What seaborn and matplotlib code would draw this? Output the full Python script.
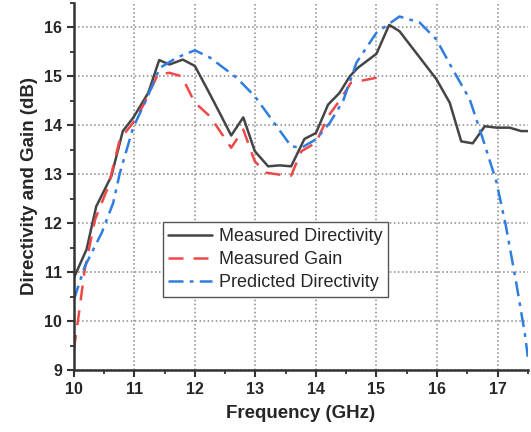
import matplotlib
matplotlib.use("Agg")
import matplotlib.pyplot as plt
import seaborn as sns
from matplotlib.ticker import MultipleLocator

# Measured directivity (black solid)
freq_dir = [10.0, 10.21, 10.37, 10.62, 10.81, 10.98, 11.23, 11.41, 11.58, 11.8, 12.0,
            12.25, 12.41, 12.6, 12.8, 12.99, 13.21, 13.4, 13.59, 13.81, 14.0, 14.2,
            14.39, 14.56, 14.69, 15.0, 15.21, 15.38, 15.99, 16.21, 16.4, 16.59,
            16.79, 16.98, 17.2, 17.39, 17.5]
dir_meas = [10.88, 11.46, 12.34, 12.96, 13.88, 14.15, 14.66, 15.33, 15.24, 15.34, 15.21,
            14.63, 14.25, 13.79, 14.16, 13.47, 13.16, 13.18, 13.16, 13.72, 13.84, 14.42,
            14.66, 15.0, 15.17, 15.46, 16.05, 15.92, 14.94, 14.46, 13.67, 13.63,
            13.98, 13.95, 13.95, 13.88, 13.88]

# Measured gain (red dashed)
freq_gain = [10.0, 10.07, 10.18, 10.35, 10.57, 10.76, 10.98, 11.14, 11.39, 11.58, 11.78,
             12.0, 12.25, 12.6, 12.8, 12.99, 13.18, 13.4, 13.59, 13.76, 14.0, 14.2,
             14.39, 14.58, 14.72, 15.0]
gain_meas = [9.41, 10.02, 11.05, 12.07, 12.75, 13.71, 14.05, 14.39, 15.04, 15.07, 15.0,
             14.46, 14.18, 13.54, 13.91, 13.26, 13.03, 12.99, 12.97, 13.47, 13.64, 14.18,
             14.5, 14.87, 14.9, 14.97]

# Predicted directivity (blue dash-dot)
freq_pred = [10.0, 10.18, 10.46, 10.65, 10.76, 10.98, 11.2, 11.42, 11.7, 12.0, 12.25,
             12.69, 12.99, 13.35, 13.59, 13.76, 14.0, 14.23, 14.45, 14.67, 15.0, 15.38,
             15.71, 15.99, 16.26, 16.54, 16.76, 16.98, 17.14, 17.31, 17.45, 17.5]
dir_pred = [10.43, 11.11, 11.8, 12.41, 13.02, 13.95, 14.53, 15.17, 15.38, 15.53, 15.38,
            14.97, 14.59, 13.98, 13.57, 13.54, 13.71, 14.05, 14.5, 15.28, 15.89, 16.22,
            16.1, 15.75, 15.14, 14.53, 13.71, 12.85, 11.93, 10.77, 9.75, 9.27]

sns.set_style("ticks")
plt.rcParams['font.family'] = ['Liberation Sans', 'DejaVu Sans']

fig = plt.figure(figsize=(5.31, 4.32), dpi=100)
ax = fig.add_axes([0.139, 0.1435, 0.855, 0.85])

sns.lineplot(x=freq_dir, y=dir_meas, ax=ax, color='#454545', lw=1.8,
             label='Measured Directivity', sort=False)
sns.lineplot(x=freq_gain, y=gain_meas, ax=ax, color='#f04848', lw=1.8,
             label='Measured Gain', sort=False)
sns.lineplot(x=freq_pred, y=dir_pred, ax=ax, color='#2f7de0', lw=1.8,
             label='Predicted Directivity', sort=False)
ax.lines[1].set_dashes([6, 4])
ax.lines[2].set_dashes([6, 2.5, 1.5, 2.5])

ax.set_xlim(10, 17.5)
ax.set_ylim(9, 16.5)
ax.xaxis.set_major_locator(MultipleLocator(1))
ax.xaxis.set_minor_locator(MultipleLocator(0.5))
ax.yaxis.set_major_locator(MultipleLocator(1))
ax.yaxis.set_minor_locator(MultipleLocator(0.5))
ax.grid(True, which='major', ls=':', color='#888888', lw=1.1)

for s in ['top', 'right']:
    ax.spines[s].set_visible(False)
for s in ['left', 'bottom']:
    ax.spines[s].set_color('#333333')
    ax.spines[s].set_linewidth(1.8)
ax.tick_params(which='major', length=5, width=1.5, color='#333333', labelsize=11.5)
ax.tick_params(which='minor', length=3, width=1.3, color='#333333')
for lb in ax.get_xticklabels() + ax.get_yticklabels():
    lb.set_fontweight('bold')

ax.set_xlabel('Frequency (GHz)', fontsize=13.5, fontweight='bold', labelpad=6)
ax.set_ylabel('Directivity and Gain (dB)', fontsize=13.5, fontweight='bold', labelpad=4)

leg = ax.legend(loc='lower left', bbox_to_anchor=(0.196, 0.2), fontsize=13,
                frameon=True, fancybox=False, handlelength=2.4, borderpad=0.3,
                labelspacing=0.34, handletextpad=0.4, borderaxespad=0)
leg.get_frame().set_edgecolor('#555555')
leg.get_frame().set_linewidth(1.0)
leg.get_frame().set_alpha(1)

fig.savefig('out.png', dpi=100)
